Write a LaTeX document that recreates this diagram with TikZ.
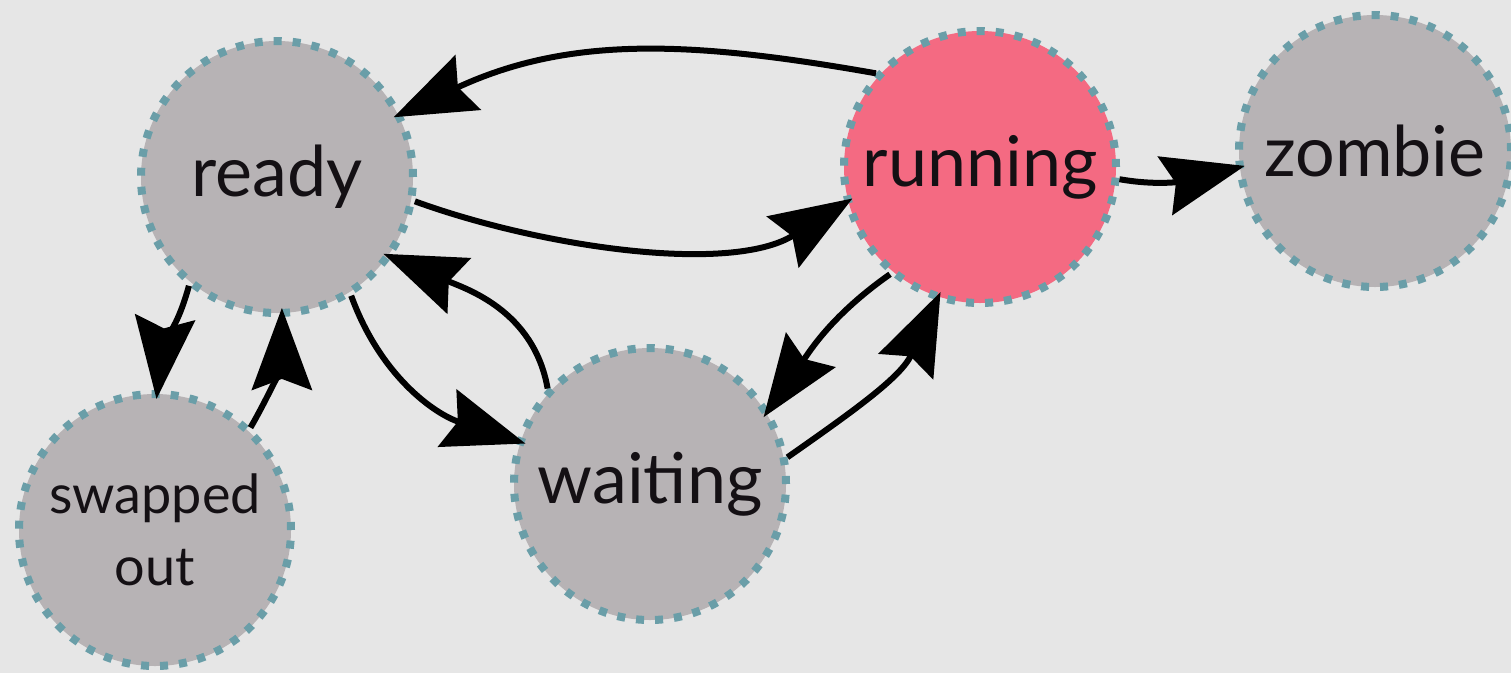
\documentclass[tikz,border=0pt]{standalone}
\usepackage{fontspec}
\setmainfont{Lato}
\usetikzlibrary{arrows.meta}
\definecolor{bgcol}{HTML}{E6E6E6}
\definecolor{statefill}{HTML}{B7B3B5}
\definecolor{runfill}{HTML}{F46A82}
\definecolor{rimcol}{HTML}{6A9EA8}
\definecolor{inkcol}{HTML}{141014}
\begin{document}
\begin{tikzpicture}[x=1pt,y=-1pt,
  state/.style={circle, minimum size=272pt, inner sep=0pt, fill=statefill,
    draw=rimcol, line width=8pt, dash pattern=on 8pt off 11pt,
    font=\fontsize{70}{70}\selectfont, text=inkcol},
  smalltext/.style={font=\fontsize{54}{72}\selectfont, align=center},
  trans/.style={line width=6pt, draw=black,
    -{Stealth[length=82pt,width=60pt,inset=11pt]}, shorten >=-9pt}]
\fill[bgcol] (0,0) rectangle (1511,673);
\useasboundingbox (0,0) rectangle (1511,673);

% process states
\node[state] (ready) at (277,177) {ready};
\node[state, fill=runfill] (run) at (980,167) {running};
\node[state] (zomb) at (1375,151) {zombie};
\node[state] (wait) at (650,484) {waiting};
\node[state, smalltext] (swap) at (155,530) {swapped\\out};

% transitions
\draw[trans] (run.138) to[out=170,in=25] (ready.27);
\draw[trans] (ready.-10) to[out=-20,in=212,looseness=0.8] (run.195);
\draw[trans] (run.-5) to[out=-10,in=194] (zomb.187);
\draw[trans] (ready.-58) to[out=-70,in=162] (wait.162);
\draw[trans] (wait.137) to[out=100,in=-23] (ready.-35);
\draw[trans] (run.230) to[out=215,in=55] (wait.32);
\draw[trans] (wait.11) to[out=35,in=245] (run.252);
\draw[trans] (ready.231) to[out=255,in=84] (swap.89);
\draw[trans] (swap.47) to[out=60,in=270] (ready.272);
\end{tikzpicture}
\end{document}
